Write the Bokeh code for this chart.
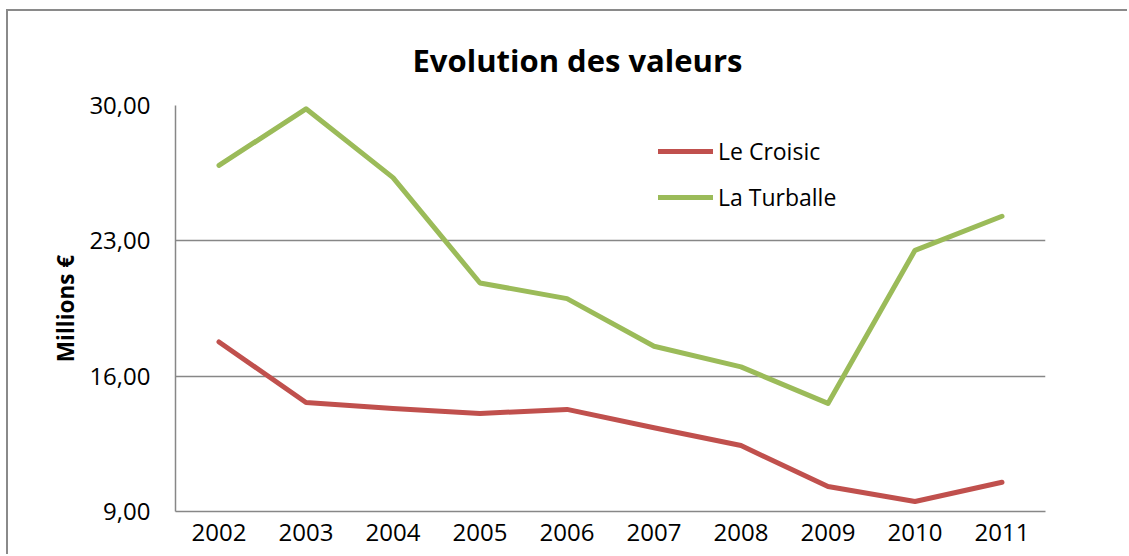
from bokeh.plotting import figure
from bokeh.models import Range1d, FactorRange, FixedTicker, Legend, LegendItem, Title
from bokeh.embed import file_html
from bokeh.resources import INLINE

years = ["2002", "2003", "2004", "2005", "2006", "2007", "2008", "2009", "2010", "2011"]
le_croisic = [17.77, 14.64, 14.33, 14.07, 14.28, 13.33, 12.41, 10.29, 9.52, 10.51]
la_turballe = [26.90, 29.83, 26.27, 20.82, 20.01, 17.55, 16.48, 14.59, 22.51, 24.27]
y_ticks = [9, 16, 23, 30]
y_tick_labels = ["9,00", "16,00", "23,00", "30,00"]
series_names = ["Le Croisic", "La Turballe"]
title_text = "Evolution des valeurs"

FONT = "Open Sans"
GRAY = "#878787"

p = figure(
    width=1121, height=545,
    x_range=FactorRange(*years),
    y_range=Range1d(9, 30),
    output_backend="svg", toolbar_location=None,
    min_border_left=167, min_border_right=84, min_border_top=94, min_border_bottom=45,
)
p.styles = {
    "margin-left": "8px", "margin-top": "11px",
    "box-shadow": "-2px -2px 0px 0px #8a8a8a",
    "overflow": "hidden",
}

p.outline_line_color = None
p.background_fill_color = "white"
p.border_fill_color = "white"

r1 = p.line(years, le_croisic, line_color="#C0504D", line_width=5,
            line_cap="round", line_join="round")
r2 = p.line(years, la_turballe, line_color="#9BBB59", line_width=5,
            line_cap="round", line_join="round")

p.xgrid.grid_line_color = None
p.ygrid.grid_line_color = GRAY
p.ygrid.grid_line_width = 1.5
p.yaxis.ticker = FixedTicker(ticks=y_ticks)
p.yaxis.major_label_overrides = {t: l for t, l in zip(y_ticks, y_tick_labels)}
p.yaxis.axis_label = "Millions €"

for ax in (p.xaxis[0], p.yaxis[0]):
    ax.axis_line_color = GRAY
    ax.axis_line_width = 1.5
    ax.major_tick_line_color = None
    ax.minor_tick_line_color = None
    ax.major_tick_out = 0
    ax.major_tick_in = 0
    ax.minor_tick_out = 0
    ax.major_label_text_font = FONT
    ax.major_label_text_font_size = "24px"
    ax.major_label_text_color = "black"

p.yaxis.major_label_standoff = 25
p.yaxis.axis_label_text_font = FONT
p.yaxis.axis_label_text_font_size = "22.5px"
p.yaxis.axis_label_text_font_style = "bold"
p.yaxis.axis_label_text_color = "black"
p.yaxis.axis_label_standoff = 5
p.xaxis.major_label_standoff = 12

title = Title(text=title_text, align="left", offset=237, standoff=50,
              text_font=FONT, text_font_size="31px", text_font_style="bold",
              text_color="black")
p.add_layout(title, "above")

legend = Legend(
    items=[LegendItem(label=series_names[0], renderers=[r1]),
           LegendItem(label=series_names[1], renderers=[r2])],
    location=(483, 298),
    padding=0, margin=0, spacing=14,
    glyph_width=55, glyph_height=30, label_height=30, label_standoff=5,
    label_text_font=FONT, label_text_font_size="23px", label_text_color="black",
    background_fill_alpha=0, border_line_color=None,
)
p.add_layout(legend)

open("out.html", "w").write(file_html(p, INLINE))
